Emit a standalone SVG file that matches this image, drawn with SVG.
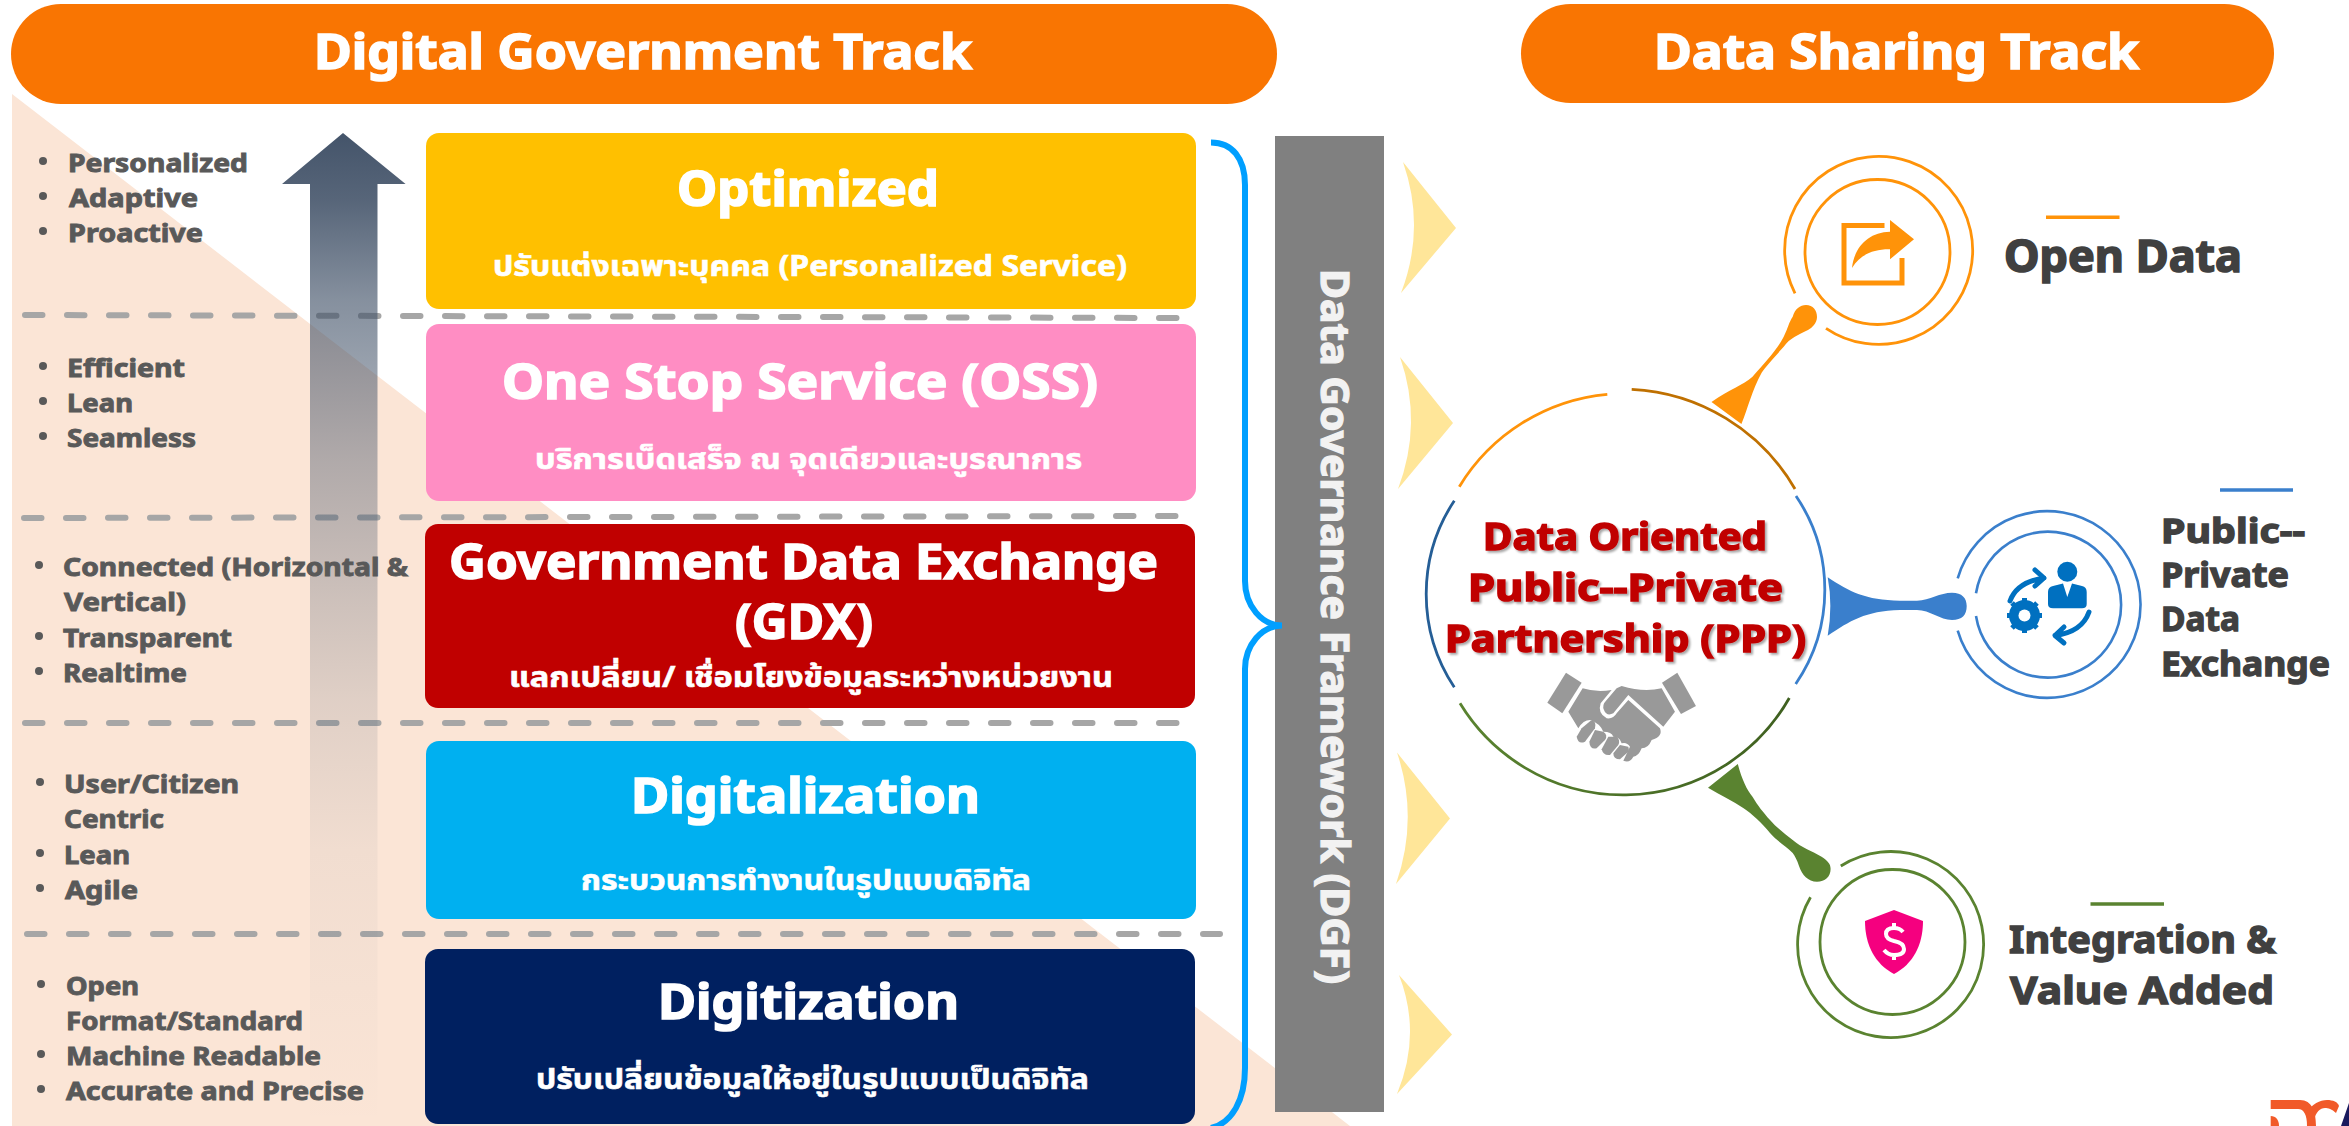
<svg xmlns="http://www.w3.org/2000/svg" width="2349" height="1126" viewBox="0 0 2349 1126">
<style>
text{font-family:"Noto Sans","Noto Sans Thai","Noto Sans CJK SC",sans-serif;font-weight:700}
.hd{font-size:48px;fill:#fff;stroke:#fff;stroke-width:1.6}
.tt{font-size:48px;fill:#fff;stroke:#fff;stroke-width:1.6}
.st{font-size:28px;fill:#fff;stroke:#fff;stroke-width:.6}
.bl{font-size:25px;fill:#595959;stroke:#595959;stroke-width:.9}
.lb{font-size:44px;fill:#404040;stroke:#404040;stroke-width:1.6}
.lm{font-size:34px;fill:#404040;stroke:#404040;stroke-width:1.3}
.lv{font-size:38px;fill:#404040;stroke:#404040;stroke-width:1.4}
.pp{font-size:37px;fill:#c00000;stroke:#c00000;stroke-width:1.5}
.dd{fill:none;stroke:#a6a6a6;stroke-width:6;stroke-linecap:round;stroke-dasharray:17.5 24.5}
.ck{fill:#ffe699}
.box{stroke:none}
.or{fill:none;stroke:#ff9309;stroke-width:2.8}
.bu{fill:none;stroke:#3a7fcc;stroke-width:2.6}
.gr{fill:none;stroke:#5a8330;stroke-width:2.8}
.arc{fill:none;stroke-width:2.8}
.ic{fill:none;stroke:#0070c0;stroke-width:5;stroke-linecap:round;stroke-linejoin:round}
</style>
<defs>
<linearGradient id="arrowG" gradientUnits="userSpaceOnUse" x1="0" y1="133" x2="0" y2="1126">
<stop offset="0" stop-color="#44546a"/>
<stop offset="0.067" stop-color="#44546a" stop-opacity="0.9"/>
<stop offset="0.168" stop-color="#44546a" stop-opacity="0.65"/>
<stop offset="0.329" stop-color="#44546a" stop-opacity="0.41"/>
<stop offset="0.47" stop-color="#44546a" stop-opacity="0.25"/>
<stop offset="0.571" stop-color="#44546a" stop-opacity="0.15"/>
<stop offset="0.722" stop-color="#44546a" stop-opacity="0.055"/>
<stop offset="1" stop-color="#44546a" stop-opacity="0"/>
</linearGradient>
<linearGradient id="greenG" gradientUnits="userSpaceOnUse" x1="1460" y1="0" x2="1790" y2="0">
<stop offset="0" stop-color="#5a8330"/><stop offset="1" stop-color="#3f6020"/>
</linearGradient>
<filter id="shadow" x="-5%" y="-20%" width="110%" height="140%">
<feDropShadow dx="2" dy="2" stdDeviation="1.2" flood-color="#000" flood-opacity="0.35"/>
</filter>
</defs>
<rect width="2349" height="1126" fill="#fff"/>
<polygon id="bgTriangle" points="12,94 1350,1126 12,1126" fill="#fbe5d6"/>
<g id="header-digital"><rect x="11" y="4" width="1266" height="100" rx="50" fill="#f97502"/>
<text class="hd" x="314" y="69" textLength="658" lengthAdjust="spacingAndGlyphs">Digital Government Track</text></g>
<g id="header-sharing"><rect x="1521" y="4" width="753" height="99" rx="49.5" fill="#f97502"/>
<text class="hd" x="1654" y="69" textLength="485" lengthAdjust="spacingAndGlyphs">Data Sharing Track</text></g>
<g id="dividers">
<path class="dd" d="M25,315L1180,318"/>
<path class="dd" d="M24,518L1183,516"/>
<path class="dd" d="M25,723H1185"/>
<path class="dd" d="M27,934H1220"/>
</g>
<polygon id="upArrow" points="343,133 405.6,184 377.5,184 377.5,1126 310,1126 310,184 282,184" fill="url(#arrowG)"/>
<g id="bullets1"><circle cx="43" cy="161" r="4" fill="#595959"/><circle cx="43" cy="196" r="4" fill="#595959"/><circle cx="43" cy="231" r="4" fill="#595959"/>
<text class="bl" x="68" y="171.5" textLength="180" lengthAdjust="spacingAndGlyphs">Personalized</text>
<text class="bl" x="69" y="206.5" textLength="129" lengthAdjust="spacingAndGlyphs">Adaptive</text>
<text class="bl" x="68" y="241.5" textLength="135" lengthAdjust="spacingAndGlyphs">Proactive</text></g>
<g id="bullets2"><circle cx="43" cy="366" r="4" fill="#595959"/><circle cx="43" cy="401" r="4" fill="#595959"/><circle cx="43" cy="436" r="4" fill="#595959"/>
<text class="bl" x="67" y="376.5" textLength="118" lengthAdjust="spacingAndGlyphs">Efficient</text>
<text class="bl" x="67" y="411.5" textLength="66" lengthAdjust="spacingAndGlyphs">Lean</text>
<text class="bl" x="67" y="446.5" textLength="129" lengthAdjust="spacingAndGlyphs">Seamless</text></g>
<g id="bullets3"><circle cx="39" cy="565" r="4" fill="#595959"/><circle cx="39" cy="636" r="4" fill="#595959"/><circle cx="39" cy="671" r="4" fill="#595959"/>
<text class="bl" x="63" y="575.5" textLength="345" lengthAdjust="spacingAndGlyphs">Connected (Horizontal &amp;</text>
<text class="bl" x="64" y="610.5" textLength="122" lengthAdjust="spacingAndGlyphs">Vertical)</text>
<text class="bl" x="63" y="646.5" textLength="169" lengthAdjust="spacingAndGlyphs">Transparent</text>
<text class="bl" x="63" y="681.5" textLength="124" lengthAdjust="spacingAndGlyphs">Realtime</text></g>
<g id="bullets4"><circle cx="40" cy="782" r="4" fill="#595959"/><circle cx="40" cy="853" r="4" fill="#595959"/><circle cx="40" cy="888" r="4" fill="#595959"/>
<text class="bl" x="64" y="792.5" textLength="175" lengthAdjust="spacingAndGlyphs">User/Citizen</text>
<text class="bl" x="64" y="827.5" textLength="100" lengthAdjust="spacingAndGlyphs">Centric</text>
<text class="bl" x="64" y="863.5" textLength="66" lengthAdjust="spacingAndGlyphs">Lean</text>
<text class="bl" x="65" y="898.5" textLength="73" lengthAdjust="spacingAndGlyphs">Agile</text></g>
<g id="bullets5"><circle cx="41" cy="984" r="4" fill="#595959"/><circle cx="41" cy="1054" r="4" fill="#595959"/><circle cx="41" cy="1089" r="4" fill="#595959"/>
<text class="bl" x="66" y="994.5" textLength="73" lengthAdjust="spacingAndGlyphs">Open</text>
<text class="bl" x="66" y="1029.5" textLength="237" lengthAdjust="spacingAndGlyphs">Format/Standard</text>
<text class="bl" x="66" y="1064.5" textLength="255" lengthAdjust="spacingAndGlyphs">Machine Readable</text>
<text class="bl" x="66" y="1099.5" textLength="298" lengthAdjust="spacingAndGlyphs">Accurate and Precise</text></g>
<g id="node-optimized"><rect class="box" x="426" y="133" width="770" height="176" rx="13" fill="#ffc000"/>
<text class="tt" x="677" y="206" textLength="262" lengthAdjust="spacingAndGlyphs">Optimized</text>
<text class="st" x="493" y="276" textLength="634" lengthAdjust="spacingAndGlyphs">ปรับแต่งเฉพาะบุคคล (Personalized Service)</text></g>
<g id="node-oss"><rect class="box" x="426" y="324" width="770" height="177" rx="13" fill="#ff8dc3"/>
<text class="tt" x="502" y="399" textLength="596" lengthAdjust="spacingAndGlyphs">One Stop Service (OSS)</text>
<text class="st" x="535" y="469" textLength="547" lengthAdjust="spacingAndGlyphs">บริการเบ็ดเสร็จ ณ จุดเดียวและบูรณาการ</text></g>
<g id="node-gdx"><rect class="box" x="425" y="524" width="770" height="184" rx="13" fill="#c00000"/>
<text class="tt" x="449" y="579" textLength="709" lengthAdjust="spacingAndGlyphs">Government Data Exchange</text>
<text class="tt" x="735" y="639" textLength="138" lengthAdjust="spacingAndGlyphs">(GDX)</text>
<text class="st" x="509" y="687" textLength="604" lengthAdjust="spacingAndGlyphs">แลกเปลี่ยน/ เชื่อมโยงข้อมูลระหว่างหน่วยงาน</text></g>
<g id="node-digitalization"><rect class="box" x="426" y="741" width="770" height="178" rx="13" fill="#00b0f0"/>
<text class="tt" x="631" y="813" textLength="349" lengthAdjust="spacingAndGlyphs">Digitalization</text>
<text class="st" x="581" y="890" textLength="450" lengthAdjust="spacingAndGlyphs">กระบวนการทำงานในรูปแบบดิจิทัล</text></g>
<g id="node-digitization"><rect class="box" x="425" y="949" width="770" height="175" rx="13" fill="#002060"/>
<text class="tt" x="658" y="1019" textLength="301" lengthAdjust="spacingAndGlyphs">Digitization</text>
<text class="st" x="536" y="1089" textLength="553" lengthAdjust="spacingAndGlyphs">ปรับเปลี่ยนข้อมูลให้อยู่ในรูปแบบเป็นดิจิทัล</text></g>
<g id="node-dgf"><rect x="1275" y="136" width="109" height="976" fill="#808080"/>
<text style="writing-mode:vertical-rl" x="1336" y="269" font-size="40" fill="#f2f2f2" stroke="#f2f2f2" stroke-width="1.3" textLength="715" lengthAdjust="spacingAndGlyphs">Data Governance Framework (DGF)</text></g>
<path id="brace" d="M1211,142.5C1232,142.5 1245,158 1245,185V581C1245,606 1262,625.5 1282,625.5C1262,625.5 1245,645 1245,669V1068C1245,1100 1232,1123 1211,1128" fill="none" stroke="#009fff" stroke-width="6"/>
<g id="chevrons">
<path class="ck" d="M1403,162L1456,228L1401,293Q1426,228 1403,162Z"/>
<path class="ck" d="M1400,357L1453,423L1398,489Q1423,423 1400,357Z"/>
<path class="ck" d="M1397,752.5L1450,818.6L1396,884Q1419,818 1397,752.5Z"/>
<path class="ck" d="M1399,975L1452,1034.5L1397,1094Q1422,1034 1399,975Z"/>
</g>
<g id="node-ppp">
<path class="arc" d="M1459.3,486.7A194,194 0 0 1 1607.3,394.3" stroke="#ff9309"/>
<path class="arc" d="M1631.7,389.3A200,200 0 0 1 1795,489" stroke="#bf7000"/>
<path class="arc" d="M1796,496A167,167 0 0 1 1795.7,684" stroke="#3a7fcc"/>
<path class="arc" d="M1789.3,698A191,191 0 0 1 1460,703.3" stroke="url(#greenG)"/>
<path class="arc" d="M1454.3,687.3A169,169 0 0 1 1454.3,500.7" stroke="#255e96"/>
<g filter="url(#shadow)">
<text class="pp" x="1483" y="550" textLength="284" lengthAdjust="spacingAndGlyphs">Data Oriented</text>
<text class="pp" x="1468" y="601" textLength="315" lengthAdjust="spacingAndGlyphs">Public--Private</text>
<text class="pp" x="1445" y="652" textLength="361" lengthAdjust="spacingAndGlyphs">Partnership (PPP)</text>
</g>
<g transform="translate(1400,370) scale(0.3333)" fill="#999">
<polygon points="498,908 545,938 487,1030 442,998"/>
<polygon points="832,908 888,1008 843,1032 786,938"/>
<path d="M548,955Q590,968 635,960L602,1000Q592,1030 620,1045Q640,1048 650,1030L685,990L780,1075Q790,1100 755,1110Q745,1135 725,1135Q715,1160 700,1160Q690,1180 670,1172L690,1130Q680,1115 665,1120Q660,1100 640,1100Q635,1085 610,1085Q600,1060 570,1050Q550,1050 535,1075L505,1025Z"/>
<path d="M665,948Q730,968 785,955L825,1025L790,1070L685,975L640,1030Q620,1040 612,1020Q605,1005 620,990L650,955Z"/>
<path d="M545,1075L572,1052Q590,1050 585,1075L555,1115Q535,1125 530,1100Z"/>
<path d="M585,1080L610,1085Q625,1095 615,1110L590,1135Q570,1140 568,1115Z"/>
<path d="M625,1100L650,1100Q662,1110 655,1125L630,1155Q610,1158 605,1138Z"/>
<path d="M660,1125L685,1130Q690,1145 680,1150L660,1168Q640,1168 640,1150Z"/>
</g>
</g>
<g id="connectors">
<path id="conn-open" d="M1711.5,402C1730,389 1743,385 1752.5,376.7C1765,362 1777,350 1783.7,336.7C1788,328 1789,322 1792.7,316.7C1795,309 1800,305 1806,305C1813,305 1817,310 1817,317C1817,323 1812,328 1808,330C1798,335 1790,338 1783.7,346.7C1772,360 1766,366 1761.5,373C1752,390 1748,408 1741.4,424Z" fill="#ff9309"/>
<path id="conn-ppp" d="M1827.7,577.3C1850,592 1865,600 1900,600.7L1917,600.7C1930,600 1940,592.7 1952,592.7C1962,592.7 1966.7,598 1966.7,606C1966.7,615 1962,620 1952,620C1940,620 1930,610 1917,610L1900,610C1865,611 1850,621 1827.7,635.7Q1833,606 1827.7,577.3Z" fill="#3a7fcc"/>
<path id="conn-value" d="M1737.8,764C1742,780 1747,790 1752.5,796.7C1758,806 1763,812 1770,820C1777,828 1785,834 1792.7,840C1802,848 1812,851 1821.6,856.7C1828,861 1830.6,864 1830.6,869C1830.6,877 1825,881.7 1817,881.7C1808,881.7 1802,875 1799,866C1797,860 1795,856 1792.7,853C1785,845 1778,842 1770,833C1762,823 1752,814 1743.6,808.3C1733,801 1720,795 1708,787.7Z" fill="#5a8330"/>
</g>
<g id="node-open">
<path class="or" d="M1795,293.3A94,94 0 1 1 1826,328.3"/>
<circle class="or" cx="1877.5" cy="252" r="72.5"/>
<path d="M1884.5,225.5H1844V283H1902V258" fill="none" stroke="#ff9309" stroke-width="5"/>
<path d="M1914,239.3L1890,220V231.7C1868,232 1854,248 1852,268C1860,255 1873,249 1890,249.3V259.3Z" fill="#ff9309"/>
<path d="M2046,217.3H2119.5" stroke="#ff9309" stroke-width="3.5" fill="none"/>
<text class="lb" x="2004" y="271.5" textLength="238" lengthAdjust="spacingAndGlyphs">Open Data</text>
</g>
<g id="node-exchange">
<path class="bu" d="M1957.7,578.3A93.3,93.3 0 1 1 1957.7,630.7"/>
<path class="bu" d="M1976,593.3A73,73 0 1 1 1976,616"/>
<circle cx="2067.3" cy="571.7" r="10" fill="#0070c0"/>
<path d="M2048,592Q2048,587 2053,586L2063,583.5L2067.3,597L2072,583.5L2082,586Q2086.7,587 2086.7,592V604Q2086.7,608.3 2082,608.3H2053Q2048,608.3 2048,604Z" fill="#0070c0"/>
<path class="ic" d="M2010,601Q2017,582 2044,578M2035,570L2044,578L2035,586"/>
<path class="ic" d="M2089,612Q2082,632 2055,635.5M2064,627L2055,635.5L2064,643"/>
<circle cx="2024.5" cy="615.5" r="11" fill="none" stroke="#0070c0" stroke-width="9"/>
<path d="M2024.5,598V633M2007,615.5H2042M2012,603L2037,628M2037,603L2012,628" stroke="#0070c0" stroke-width="5" fill="none"/>
<circle cx="2024.5" cy="615.5" r="6" fill="#fff"/>
<path d="M2220,490H2293" stroke="#3a7fcc" stroke-width="3.5" fill="none"/>
<text class="lm" x="2161" y="542.5" textLength="144" lengthAdjust="spacingAndGlyphs">Public--</text>
<text class="lm" x="2161" y="586.5" textLength="128" lengthAdjust="spacingAndGlyphs">Private</text>
<text class="lm" x="2161" y="631" textLength="79" lengthAdjust="spacingAndGlyphs">Data</text>
<text class="lm" x="2161" y="676" textLength="169" lengthAdjust="spacingAndGlyphs">Exchange</text>
</g>
<g id="node-value">
<path class="gr" d="M1840.8,866A93,93 0 1 1 1810.5,897.3"/>
<circle class="gr" cx="1892.5" cy="942" r="72.5"/>
<path d="M1894,910L1923,921C1923,945 1913,964 1894,974C1875,964 1865,945 1865,921Z" fill="#f5007f"/>
<path d="M1903,932Q1900,928 1894,928Q1886,928 1886,934Q1886,939 1894,941Q1904,943 1904,949Q1904,955 1894,955Q1888,955 1884,950M1894,923V928M1894,955V960" fill="none" stroke="#fff" stroke-width="4"/>
<path d="M2090.5,904H2164" stroke="#5a8330" stroke-width="3.5" fill="none"/>
<text class="lv" x="2009" y="953" textLength="267" lengthAdjust="spacingAndGlyphs">Integration &amp;</text>
<text class="lv" x="2010" y="1004" textLength="264" lengthAdjust="spacingAndGlyphs">Value Added</text>
</g>
<g id="logo">
<path d="M2270.7,1100H2300C2312,1100 2316,1112 2316,1126H2307C2307,1115 2304,1109 2298,1109H2270.7Z" fill="#f15a29"/>
<path d="M2270.7,1116C2276,1116 2279,1120 2279,1126H2270.7Z" fill="#f15a29"/>
<path d="M2307,1112C2312,1104 2320,1100 2327,1100C2333,1100 2338,1102 2339,1106L2336,1113C2332,1109 2328,1108 2325,1108C2320,1108 2316,1112 2314,1120Z" fill="#f15a29"/>
<path d="M2341,1126L2349,1103V1126Z" fill="#1a1a5e"/>
</g>
</svg>
